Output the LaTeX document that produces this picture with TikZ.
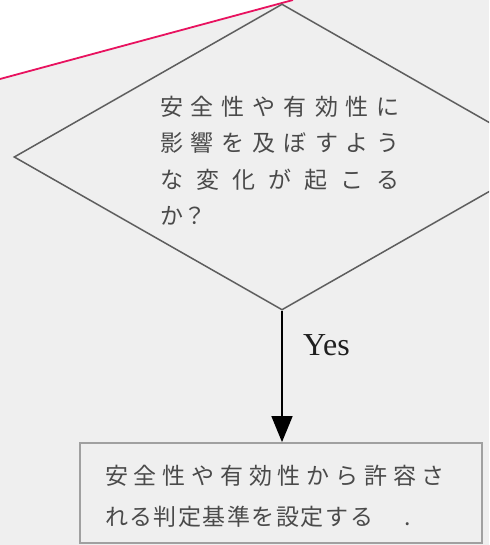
\documentclass[tikz,border=0pt]{standalone}
\usepackage{fontspec}
\setmainfont{Liberation Serif}
\newfontfamily\jpfont{Noto Sans CJK JP}
\usetikzlibrary{shapes.geometric,arrows.meta}
\definecolor{bgray}{HTML}{EFEFEF}
\definecolor{pinkline}{HTML}{E8125F}
\definecolor{dline}{HTML}{5E5E5E}
\definecolor{jtext}{HTML}{4A4A4A}
\definecolor{boxline}{HTML}{A0A0A0}
\newcommand\jline[2]{\makebox[#1][s]{#2}}
\tikzset{
  decision/.style={diamond, draw=dline, line width=1.5pt, minimum width=536pt, minimum height=306pt, inner sep=0pt},
  jtxt/.style={font=\jpfont\fontsize{23}{36.5}\selectfont, text=jtext, align=left, inner sep=0pt},
  stepbox/.style={draw=boxline, line width=1.8pt, fill=bgray, minimum width=402pt, minimum height=100pt, inner sep=0pt},
  flowarrow/.style={draw=black, line width=1.6pt, -{Triangle[length=26pt,width=21pt]}}
}
\begin{document}
\begin{tikzpicture}[x=1pt,y=-1pt]
\useasboundingbox (0,0) rectangle (489,545);
\clip (0,0) rectangle (489,545);
\fill[bgray] (0,0) rectangle (489,545);
\fill[white] (0,0) -- (293,0) -- (0,79) -- cycle;
\draw[pinkline, line width=1.8pt] (0,79) -- (293,0);

\node[decision] (q) at (282,157) {};
\node[jtxt, text width=240pt] (qt) at (280,160.5) {%
\jline{240pt}{安\hfill 全\hfill 性\hfill や\hfill 有\hfill 効\hfill 性\hfill に}\\
\jline{240pt}{影\hfill 響\hfill を\hfill 及\hfill ぼ\hfill す\hfill よ\hfill う}\\
\jline{240pt}{な\hfill 変\hfill 化\hfill が\hfill 起\hfill こ\hfill る}\\
か？};

\node[stepbox] (b) at (281,493) {};
\node[jtxt, font=\jpfont\fontsize{23}{41}\selectfont, text width=343pt] (bt) at (276.5,496) {%
\jline{340pt}{安\hfill 全\hfill 性\hfill や\hfill 有\hfill 効\hfill 性\hfill か\hfill ら\hfill 許\hfill 容\hfill さ}\\
\jline{268pt}{れ\hfill る\hfill 判\hfill 定\hfill 基\hfill 準\hfill を\hfill 設\hfill 定\hfill す\hfill る}\hspace{32pt}.};

\draw[flowarrow] (q.south) -- (q.south |- b.north);
\node[anchor=base west, inner sep=0pt, font=\fontsize{32}{36}\selectfont, text=black!88] (yes) at (303,355) {Yes};
\end{tikzpicture}
\end{document}
